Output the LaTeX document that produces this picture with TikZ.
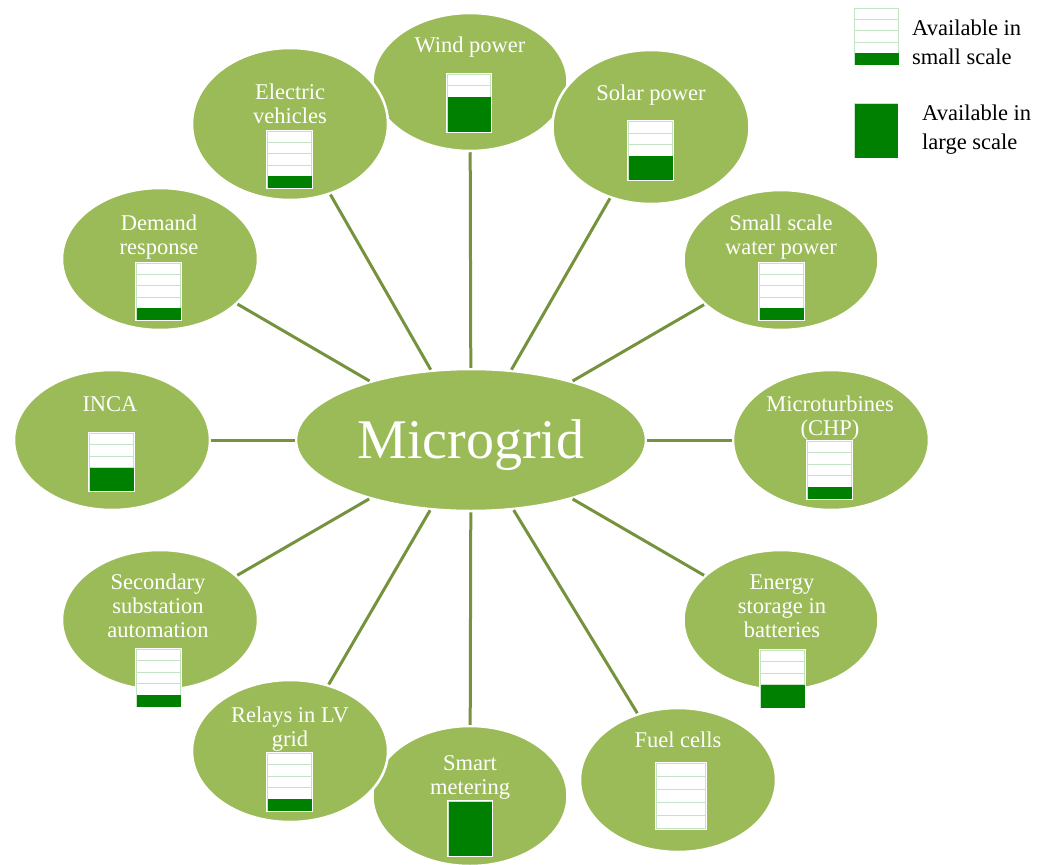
\documentclass[tikz,border=0pt]{standalone}
\usepackage{fontspec}
\setmainfont{Liberation Serif}
\usetikzlibrary{shapes.geometric}
\definecolor{olive}{RGB}{155,187,89}
\definecolor{olivedark}{RGB}{118,146,60}
\definecolor{barfill}{RGB}{0,128,0}
\definecolor{cellline}{RGB}{196,226,196}
\tikzset{
  hub/.style={ellipse, fill=olive, draw=white, line width=2.5pt, inner sep=0pt},
  sat/.style={ellipse, fill=olive, draw=white, line width=2.5pt, inner sep=0pt},
  lbl/.style={text=white, align=center, anchor=base, inner sep=0pt,
              font=\fontsize{22.5}{24}\selectfont},
  legtext/.style={text=black, align=left, anchor=base west, inner sep=0pt,
              font=\fontsize{22.5}{29}\selectfont},
  link/.style={draw=olivedark, line width=3pt},
}
% availability meter: left, top, right, bottom, number of filled cells (of 5)
\newcommand\meter[5]{%
  \fill[white] (#1,#2) rectangle (#3,#4);
  \pgfmathsetmacro\cellh{(#4-#2-3)/5}
  \foreach \k in {1,...,4}
    \draw[cellline, line width=1pt] (#1+1.5,{#2+1.5+\k*\cellh}) -- (#3-1.5,{#2+1.5+\k*\cellh});
  \draw[cellline, line width=1pt] (#1+1.5,#2+1.5) rectangle (#3-1.5,#4-1.5);
  \ifnum#5>0
    \fill[barfill] (#1+1.5,#4-1.5) rectangle (#3-1.5,{#4-1.5-#5*\cellh});
  \fi
}
\begin{document}
\begin{tikzpicture}[x=1pt,y=-1pt]
\useasboundingbox (0,0) rectangle (1045,865);

% satellites drawn first sit underneath their neighbours
\node[sat, minimum width=195, minimum height=138] (wind) at (470,82) {};
\node[sat, minimum width=195, minimum height=140] (smart) at (470,796) {};
\node[sat, minimum width=196, minimum height=152] (ev) at (290,124) {};
\node[sat, minimum width=197, minimum height=154] (solar) at (651,127) {};
\node[sat, minimum width=196, minimum height=142] (demand) at (160,259) {};
\node[sat, minimum width=195, minimum height=140] (water) at (781,260) {};
\node[sat, minimum width=196, minimum height=140] (inca) at (112,440) {};
\node[sat, minimum width=196, minimum height=140] (micro) at (831,440) {};
\node[sat, minimum width=196, minimum height=140] (subst) at (160,620) {};
\node[sat, minimum width=195, minimum height=140] (storage) at (781,620) {};
\node[sat, minimum width=196, minimum height=142] (relays) at (290,751) {};
\node[sat, minimum width=196, minimum height=144] (fuel) at (678,780) {};

\node[hub, minimum width=350, minimum height=142] (mg) at (471,440) {};
\node[text=white, inner sep=0pt, font=\fontsize{56}{60}\selectfont] (mgtext) at (471,445) {Microgrid};

% spokes
\foreach \s in {wind,ev,solar,demand,water,inca,micro,subst,storage,relays,smart,fuel}
  \draw[link] (mg) -- (\s);

% labels (anchored at the baseline of the last line)
\node[lbl] (windt) at (470,52) {Wind power};
\node[lbl] (evt) at (290,123) {Electric\\vehicles};
\node[lbl] (solart) at (651,100) {Solar power};
\node[lbl] (demandt) at (159,254) {Demand\\response};
\node[lbl] (watert) at (781,254) {Small scale\\water power};
\node[lbl] (incat) at (110,411) {INCA};
\node[lbl] (microt) at (830,435) {Microturbines\\(CHP)};
\node[lbl] (substt) at (158,637) {Secondary\\substation\\automation};
\node[lbl] (storaget) at (782,637) {Energy\\storage in\\batteries};
\node[lbl] (relayst) at (290,746) {Relays in LV\\grid};
\node[lbl] (smartt) at (470,794) {Smart\\metering};
\node[lbl] (fuelt) at (678,747) {Fuel cells};

% meters
\meter{446}{73}{492}{133}{3}
\meter{266}{130}{313}{189}{1}
\meter{627}{120}{674}{181}{2}
\meter{135}{262}{182}{321}{1}
\meter{758}{262}{805}{321}{1}
\meter{88}{432}{135}{492}{2}
\meter{806}{440}{853}{500}{1}
\meter{135}{648}{182}{708}{1}
\meter{759}{649}{806}{709}{2}
\meter{266}{752}{313}{812}{1}
\meter{447}{800}{493}{857}{5}
\meter{655}{762}{707}{830}{0}

% legend
\meter{853}{7}{900}{66}{1}
\node[legtext] (leg1) at (912,64) {Available in\\small scale};
\meter{853}{102}{899}{159}{5}
\node[legtext] (leg2) at (922,149) {Available in\\large scale};
\end{tikzpicture}
\end{document}
